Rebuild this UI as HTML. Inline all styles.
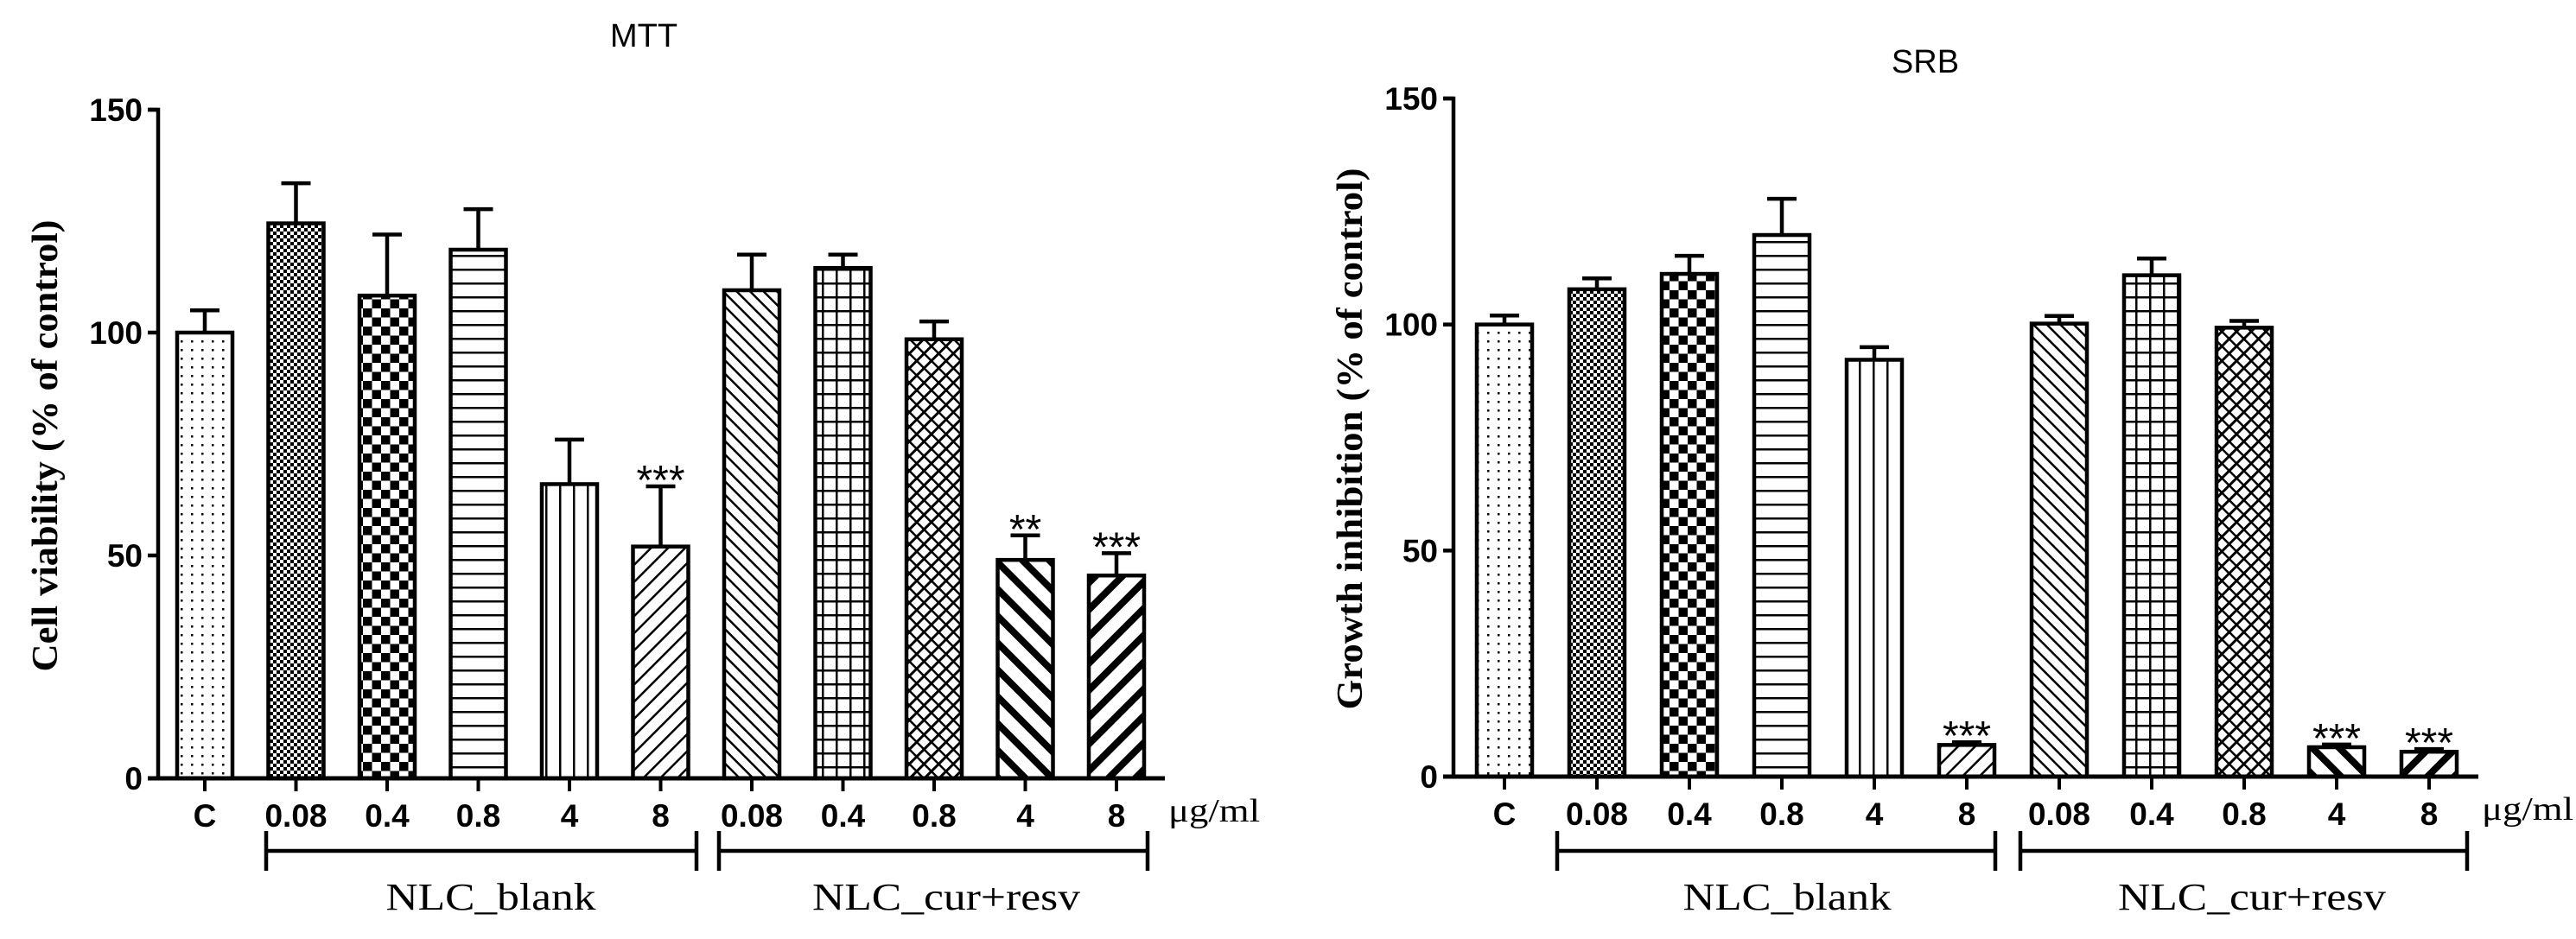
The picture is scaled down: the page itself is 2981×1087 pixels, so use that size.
<!DOCTYPE html>
<html><head><meta charset="utf-8"><style>
html,body{margin:0;padding:0;background:#fff;}
svg{display:block;}
</style></head><body>
<svg id="fig" width="2981" height="1087" viewBox="0 0 2981 1087" xmlns="http://www.w3.org/2000/svg">
<defs>
<pattern id="p-dots" patternUnits="userSpaceOnUse" width="12" height="10"><rect x="5" y="4" width="2.5" height="2.5" fill="#000"/></pattern>
<pattern id="p-finecheck" patternUnits="userSpaceOnUse" width="8" height="8"><rect width="8" height="8" fill="#fff"/><rect width="4" height="4" fill="#000"/><rect x="4" y="4" width="4" height="4" fill="#000"/></pattern>
<pattern id="p-check" patternUnits="userSpaceOnUse" width="21" height="21"><rect width="21" height="21" fill="#fff"/><rect width="10.5" height="10.5" fill="#000"/><rect x="10.5" y="10.5" width="10.5" height="10.5" fill="#000"/></pattern>
<pattern id="p-hlines" patternUnits="userSpaceOnUse" width="16" height="16"><rect width="16" height="16" fill="#fff"/><rect y="7" width="16" height="2.5" fill="#000"/></pattern>
<pattern id="p-vlines" patternUnits="userSpaceOnUse" width="16" height="16"><rect width="16" height="16" fill="#fff"/><rect x="7" width="2.5" height="16" fill="#000"/></pattern>
<pattern id="p-fslash" patternUnits="userSpaceOnUse" width="14" height="14" patternTransform="rotate(45)"><rect width="14" height="14" fill="#fff"/><rect x="0" width="2.5" height="14" fill="#000"/></pattern>
<pattern id="p-bslash" patternUnits="userSpaceOnUse" width="11" height="11" patternTransform="rotate(-45)"><rect width="11" height="11" fill="#fff"/><rect x="0" width="2.5" height="11" fill="#000"/></pattern>
<pattern id="p-grid" patternUnits="userSpaceOnUse" width="16" height="16"><rect width="16" height="16" fill="#fff"/><rect x="7" width="2.5" height="16" fill="#000"/><rect y="7" width="16" height="2.5" fill="#000"/></pattern>
<pattern id="p-weave" patternUnits="userSpaceOnUse" width="12" height="12" patternTransform="rotate(45)"><rect width="12" height="12" fill="#fff"/><rect x="0" width="3" height="12" fill="#000"/><rect x="3" y="0" width="9" height="2.5" fill="#000"/><rect x="3" y="6" width="9" height="0" fill="#000"/></pattern>
<pattern id="p-thickb" patternUnits="userSpaceOnUse" width="22" height="22" patternTransform="rotate(-45)"><rect width="22" height="22" fill="#fff"/><rect x="0" width="8" height="22" fill="#000"/></pattern>
<pattern id="p-thickf" patternUnits="userSpaceOnUse" width="22" height="22" patternTransform="rotate(45)"><rect width="22" height="22" fill="#fff"/><rect x="0" width="8" height="22" fill="#000"/></pattern>
</defs>
<g id="charts"></g>
</svg>
<script>
const categories = ["C","0.08","0.4","0.8","4","8","0.08","0.4","0.8","4","8"];
const mttValues = [100,124.5,108.3,118.6,66,52,109.5,114.5,98.5,49,45.5];
const mttErrors = [105,133.5,122,127.7,76,65.5,117.5,117.5,102.5,54.5,50.5];
const mttStars = ["","","","","","***","","","","**","***"];
const srbValues = [100,107.8,111.2,119.8,92.2,7,100.2,110.9,99.3,6.5,5.5];
const srbErrors = [102,110.2,115.2,127.8,95,7.6,101.9,114.6,100.8,7.1,6.1];
const srbStars = ["","","","","","***","","","","***","***"];
const yTicks = [0,50,100,150];
const groupLabels = ["NLC_blank","NLC_cur+resv"];

const fills = ["p-dots","p-finecheck","p-check","p-hlines","p-vlines","p-fslash","p-bslash","p-grid","p-weave","p-thickb","p-thickf"];
const NS = "http://www.w3.org/2000/svg";
const root = document.getElementById("charts");
function mk(tag, attrs, parent){const e=document.createElementNS(NS,tag);for(const k in attrs)e.setAttribute(k,attrs[k]);(parent||root).appendChild(e);return e;}

function drawChart(cfg, values, errors, stars){
  const g = mk("g",{});
  
  
  const y = v => cfg.y0 - (v/150)*(cfg.y0-cfg.y150);
  const x = i => cfg.c0 + i*cfg.step;
  // title
  const t = mk("text",{x:cfg.titleX,y:cfg.titleY,"font-family":"Liberation Sans, sans-serif","font-size":38,"text-anchor":"middle"},g);
  t.textContent = cfg.title;
  
  
  // y label
  const yl = mk("text",{x:0,y:0,transform:`translate(${cfg.ylX},${cfg.ylY}) rotate(-90)`,"font-family":"Liberation Serif, serif","font-weight":"bold","font-size":42,"text-anchor":"middle","textLength":cfg.ylLen,"lengthAdjust":"spacingAndGlyphs"},g);
  yl.textContent = cfg.ylabel;
  
  
  // bars
  values.forEach((v,i)=>{
    const cx = x(i), top = y(v), et = y(errors[i]);
    const eb = mk("path",{d:`M${cx} ${top} V${et} M${cx-17} ${et} H${cx+17}`,stroke:"#000","stroke-width":4.5,fill:"none"},g);
    
    
    const r = mk("rect",{x:cx-32,y:top,width:64,height:cfg.y0-top,fill:`url(#${fills[i]})`,stroke:"#000","stroke-width":4.5},g);
    
    
    if(stars[i]){
      const s = mk("text",{x:cx,y:et+9,"font-family":"Liberation Sans, sans-serif","font-size":48,"text-anchor":"middle"},g);
      s.textContent = stars[i];
      
      
    }
    const tk = mk("line",{x1:cx,x2:cx,y1:cfg.y0,y2:cfg.y0+15,stroke:"#000","stroke-width":4},g);
    
    
    const tl = mk("text",{x:cx,y:cfg.y0+56,"font-family":"Liberation Sans, sans-serif","font-weight":"bold","font-size":37,"text-anchor":"middle"},g);
    tl.textContent = categories[i];
    
    
  });
  // axes
  const ya = mk("path",{d:`M${cfg.ax-12} ${cfg.y150} H${cfg.ax} V${cfg.y0}`,stroke:"#000","stroke-width":4.5,fill:"none"},g);
  
  
  yTicks.forEach(v=>{
    const tk = mk("line",{x1:cfg.ax-12,x2:cfg.ax,y1:y(v),y2:y(v),stroke:"#000","stroke-width":4.5},g);
    
    
    const tl = mk("text",{x:cfg.ax-18,y:y(v)+13,"font-family":"Liberation Sans, sans-serif","font-weight":"bold","font-size":37,"text-anchor":"end"},g);
    tl.textContent = v;
    
    
  });
  const xa = mk("line",{x1:cfg.ax-12,x2:cfg.axEnd,y1:cfg.y0,y2:cfg.y0,stroke:"#000","stroke-width":5},g);
  
  
  const u = mk("text",{x:cfg.unitX,y:cfg.y0+50,"font-family":"Liberation Serif, serif","font-size":38,"textLength":106,"lengthAdjust":"spacingAndGlyphs"},g);
  u.textContent = "μg/ml";
  
  
  // brackets
  cfg.brackets.forEach((b,k)=>{
    const br = mk("path",{d:`M${b[0]} 962 V1008 M${b[0]} 985 H${b[1]} M${b[1]} 962 V1008`,stroke:"#000","stroke-width":4.5,fill:"none"},g);
    
    
    const gl = mk("text",{x:b[2],y:1053,"font-family":"Liberation Serif, serif","font-size":44,"text-anchor":"middle","textLength":b[3],"lengthAdjust":"spacingAndGlyphs"},g);
    gl.textContent = groupLabels[k];
    
    
  });
}

drawChart({name:"mtt-chart",title:"MTT",titleX:745,titleY:54,ylabel:"Cell viability (% of control)",ylX:66,ylY:516,ylLen:523,
  ax:183,axEnd:1348,y0:901,y150:127,c0:237,step:105.5,unitX:1352,
  brackets:[[308,806,568,243],[832,1328,1095,310]]}, mttValues, mttErrors, mttStars);
drawChart({name:"srb-chart",title:"SRB",titleX:2228,titleY:84,ylabel:"Growth inhibition (% of control)",ylX:1576,ylY:508,ylLen:627,
  ax:1682,axEnd:2868,y0:899,y150:114,c0:1741,step:107,unitX:2872,
  brackets:[[1802,2309,2068,241],[2338,2855,2606,310]]}, srbValues, srbErrors, srbStars);
</script>
</body></html>
